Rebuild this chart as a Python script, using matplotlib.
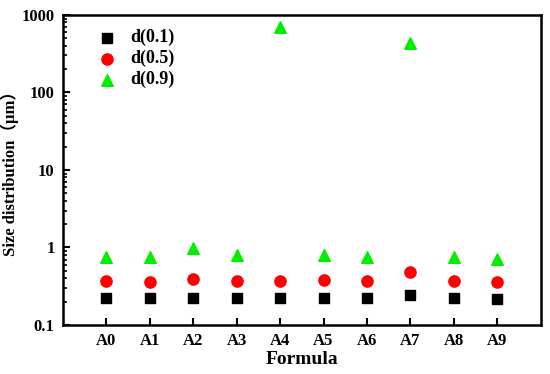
import matplotlib
matplotlib.use("Agg")
import matplotlib.pyplot as plt
from matplotlib.ticker import LogLocator, NullFormatter

plt.rcParams['font.family'] = ['Liberation Serif', 'Noto Sans CJK SC']
plt.rcParams['font.weight'] = 'bold'

formulas = ['A0', 'A1', 'A2', 'A3', 'A4', 'A5', 'A6', 'A7', 'A8', 'A9']
d01 = [0.225, 0.221, 0.226, 0.224, 0.225, 0.220, 0.224, 0.244, 0.222, 0.214]
d05 = [0.373, 0.362, 0.389, 0.370, 0.370, 0.377, 0.373, 0.487, 0.373, 0.356]
d09 = [0.76, 0.75, 0.99, 0.79, 706, 0.80, 0.75, 439, 0.75, 0.72]

fig = plt.figure(figsize=(5.5, 3.74), dpi=100)
ax = fig.add_axes([0.1145, 0.131, 0.8685, 0.829])

x = range(len(formulas))
ax.scatter(x, d01, marker='s', s=45, color='black', label='d(0.1)', zorder=3)
ax.scatter(x, d05, marker='o', s=65, color='red', label='d(0.5)', zorder=3)
ax.scatter(x, d09, marker='^', s=70, color='#00ee00', label='d(0.9)', zorder=3)

ax.set_yscale('log')
ax.set_ylim(0.1, 1000)
ax.set_xlim(-1, 10)
ax.set_xticks(list(x))
ax.set_xticklabels(formulas)
ax.set_yticks([0.1, 1, 10, 100, 1000])
ax.set_yticklabels(['0.1', '1', '10', '100', '1000'])
ax.yaxis.set_minor_locator(LogLocator(base=10, subs=range(2, 10)))
ax.yaxis.set_minor_formatter(NullFormatter())

ax.tick_params(axis='both', which='major', direction='in', length=5, width=1.5,
               labelsize=12, top=False, right=False, pad=6)
ax.tick_params(axis='y', which='minor', direction='in', length=3, width=1.2, right=False)
for lab in ax.get_xticklabels() + ax.get_yticklabels():
    lab.set_fontweight('bold')

for sp in ax.spines.values():
    sp.set_linewidth(1.8)

ax.set_xlabel('Formula', fontsize=14, fontweight='bold', labelpad=1)
ax.set_ylabel('Size distribution（μm）', fontsize=12, fontweight='bold', labelpad=2)

leg = ax.legend(loc='upper left', frameon=False, fontsize=13, bbox_to_anchor=(0.047, 0.995),
                handlelength=1.0, handletextpad=0.8, labelspacing=0.2, borderaxespad=0.3)

fig.savefig('out.png', dpi=100)
